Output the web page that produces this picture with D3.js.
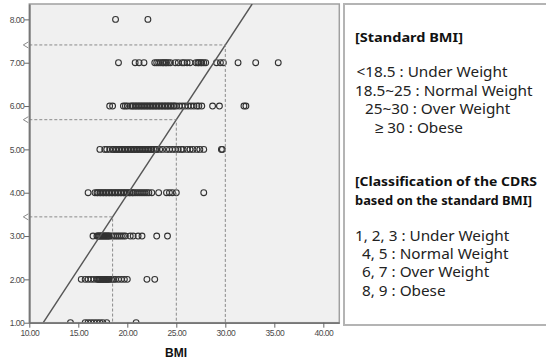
<!DOCTYPE html>
<html>
<head>
<meta charset="utf-8">
<script src="https://cdn.jsdelivr.net/npm/d3@7"></script>
<style>
	body { margin: 0; background: #fff; }
	svg { display: block; }
</style>
</head>
<body>
<script>
// BMI values, one list per CDRS level
const bmiCdrs1 = [14.2, 15.7, 16.0, 16.3, 16.6, 16.9, 17.2, 17.5, 17.9, 20.9];
const bmiCdrs2 = [15.3, 15.7, 16.0, 16.3, 16.6, 16.9, 17.0, 17.1, 17.2, 17.3, 17.4, 17.5, 17.6, 17.7, 17.8, 17.9,
	18.0, 18.1, 18.2, 18.4, 18.6, 18.8, 19.1, 19.4, 19.7, 20.0, 22.0, 22.8];
const bmiCdrs3 = [16.5, 16.9, 17.0, 17.1, 17.2, 17.3, 17.4, 17.5, 17.6, 17.7, 17.8, 17.9, 18.0, 18.1, 18.2, 18.4,
	18.6, 18.8, 19.0, 19.2, 19.4, 19.6, 19.8, 20.3, 20.6, 21.1, 21.5, 23.0, 24.1];
const bmiCdrs4 = [16.0, 16.7, 16.9, 17.0, 17.2, 17.3, 17.5, 17.6, 17.8, 17.9, 18.1, 18.2, 18.4, 18.5, 18.7, 18.8,
	19.0, 19.1, 19.3, 19.4, 19.6, 19.7, 19.9, 20.0, 20.2, 20.3, 20.5, 20.6, 20.8, 21.0, 21.2, 21.4, 21.6, 21.8,
	22.0, 22.2, 22.5, 23.2, 24.0, 24.3, 24.6, 25.0, 27.8];
const bmiCdrs5 = [17.2, 17.7, 17.9, 18.2, 18.5, 18.6, 18.8, 18.9, 19.1, 19.2, 19.4, 19.5, 19.7, 19.8, 20.0, 20.1,
	20.3, 20.4, 20.6, 20.7, 20.9, 21.0, 21.2, 21.3, 21.5, 21.6, 21.8, 21.9, 22.1, 22.2, 22.4, 22.5, 22.7, 22.9,
	23.0, 23.3, 23.6, 24.0, 24.3, 24.6, 24.9, 25.2, 25.5, 25.7, 26.1, 26.4, 26.7, 27.1, 27.4, 27.8, 29.6, 29.7];
const bmiCdrs6 = [18.2, 18.5, 19.6, 19.8, 20.0, 20.3, 20.5, 20.6, 20.8, 20.9, 21.1, 21.2, 21.4, 21.5, 21.7, 21.8,
	22.0, 22.1, 22.3, 22.4, 22.6, 22.7, 22.9, 23.0, 23.2, 23.3, 23.5, 23.6, 23.8, 23.9, 24.1, 24.2, 24.4, 24.5,
	24.7, 24.8, 25.0, 25.3, 25.6, 25.9, 26.2, 26.5, 26.8, 27.1, 27.3, 27.6, 28.7, 29.4, 31.9, 32.1];
const bmiCdrs7 = [19.1, 20.8, 21.2, 21.7, 22.8, 23.0, 23.2, 23.4, 23.6, 23.7, 23.9, 24.0, 24.2, 24.4, 24.9, 25.2,
	25.6, 25.8, 26.1, 26.4, 27.0, 27.2, 27.3, 27.5, 27.6, 27.8, 28.0, 29.1, 29.5, 29.8, 31.3, 33.1, 35.4];
const bmiCdrs8 = [18.8, 22.1];

const cdrsLevels = [1, 2, 3, 4, 5, 6, 7, 8];
const bmiByLevel = [bmiCdrs1, bmiCdrs2, bmiCdrs3, bmiCdrs4, bmiCdrs5, bmiCdrs6, bmiCdrs7, bmiCdrs8];

// fitted line CDRS = a + b * BMI, and the BMI cut-offs
const fitIntercept = -2.94;
const fitSlope = 0.345;
const bmiCutoffs = [18.5, 25, 30];

const xTickValues = [10, 15, 20, 25, 30, 35, 40];
const yTickValues = [1, 2, 3, 4, 5, 6, 7, 8];
const xDomain = [10, 41.63];
const yDomain = [1, 8.355];

const standardBmiTitle = ["[Standard BMI]"];
const standardBmiLines = ["<18.5 : Under Weight", "18.5~25 : Normal Weight", "25~30 : Over Weight", "\u2265 30 : Obese"];
const cdrsTitle = ["[Classification of the CDRS", "based on the standard BMI]"];
const cdrsLines = ["1, 2, 3 : Under Weight", "4, 5 : Normal Weight", "6, 7 : Over Weight", "8, 9 : Obese"];

const width = 546, height = 361;
const plot = {left: 29.3, right: 339.3, top: 4, bottom: 322.7};

const points = cdrsLevels.flatMap((lvl, i) => bmiByLevel[i].map(b => ({bmi: b, cdrs: lvl})));
const fit = b => fitIntercept + fitSlope * b;

const x = d3.scaleLinear().domain(xDomain).range([plot.left, plot.right]);
const y = d3.scaleLinear().domain(yDomain).range([plot.bottom, plot.top]);

const svg = d3.select("body").append("svg")
	.attr("width", width)
	.attr("height", height);

svg.append("defs").append("clipPath")
		.attr("id", "plot-clip")
	.append("rect")
		.attr("x", plot.left)
		.attr("y", plot.top)
		.attr("width", plot.right - plot.left)
		.attr("height", plot.bottom - plot.top);

// plot background + frame
svg.append("rect")
	.attr("x", plot.left)
	.attr("y", plot.top)
	.attr("width", plot.right - plot.left)
	.attr("height", plot.bottom - plot.top)
	.attr("fill", "#f0f0f0")
	.attr("stroke", "#a0a0a0")
	.attr("stroke-width", 1.5);

const inner = svg.append("g").attr("clip-path", "url(#plot-clip)");

// scatter
inner.append("g")
		.attr("fill", "none")
		.attr("stroke", "#333")
		.attr("stroke-width", 1.1)
	.selectAll("circle")
	.data(points)
	.join("circle")
		.attr("cx", d => x(d.bmi))
		.attr("cy", d => y(d.cdrs))
		.attr("r", 2.9);

// fitted line
inner.append("line")
	.attr("x1", x((yDomain[0] - fitIntercept) / fitSlope))
	.attr("y1", y(yDomain[0]))
	.attr("x2", x((yDomain[1] - fitIntercept) / fitSlope))
	.attr("y2", y(yDomain[1]))
	.attr("stroke", "#555")
	.attr("stroke-width", 1.4);

// dashed guides from the cut-offs
const guides = svg.append("g")
		.attr("fill", "none")
		.attr("stroke", "#8a8a8a")
		.attr("stroke-width", 1)
	.selectAll("g")
	.data(bmiCutoffs)
	.join("g");

guides.append("path")
	.attr("stroke-dasharray", "3,2")
	.attr("d", d => `M${plot.left},${y(fit(d))}H${x(d)}V${plot.bottom}`);

guides.append("path")
	.attr("d", d => `M${plot.left - 1},${y(fit(d)) - 3}L${plot.left - 6},${y(fit(d))}L${plot.left - 1},${y(fit(d)) + 3}`);

// axes
const xAxis = g => g
	.attr("transform", `translate(0,${plot.bottom})`)
	.call(d3.axisBottom(x).tickValues(xTickValues).tickFormat(d3.format(".2f")).tickSize(5).tickSizeOuter(0))
	.call(g => g.select(".domain").attr("stroke", "#777").attr("stroke-width", 1.8))
	.call(g => g.selectAll(".tick line").attr("stroke", "#666"))
	.call(g => g.selectAll(".tick text").attr("dy", "0.95em").attr("y", 5));

const yAxis = g => g
	.attr("transform", `translate(${plot.left},0)`)
	.call(d3.axisLeft(y).tickValues(yTickValues).tickFormat(d3.format(".2f")).tickSize(5).tickSizeOuter(0))
	.call(g => g.select(".domain").attr("stroke", "#777").attr("stroke-width", 1.8))
	.call(g => g.selectAll(".tick line").attr("stroke", "#666"))
	.call(g => g.selectAll(".tick text").attr("x", -5));

svg.append("g").call(xAxis);
svg.append("g").call(yAxis);

svg.selectAll(".tick text")
	.attr("font-family", "'Liberation Sans', Arial, sans-serif")
	.attr("font-size", 8.5)
	.attr("letter-spacing", "-0.5px")
	.attr("fill", "#4a4a4a");

svg.append("text")
	.attr("x", 176)
	.attr("y", 357)
	.attr("text-anchor", "middle")
	.attr("font-family", "'Liberation Sans', Arial, sans-serif")
	.attr("font-weight", "bold")
	.attr("font-size", 12)
	.attr("fill", "#111")
	.text("BMI");

// legend box
svg.append("rect")
	.attr("x", 344)
	.attr("y", 4)
	.attr("width", 210)
	.attr("height", 321)
	.attr("fill", "#fff")
	.attr("stroke", "#b4b4b4")
	.attr("stroke-width", 2);

const legend = svg.append("g")
	.attr("font-family", "'Noto Sans', sans-serif")
	.attr("fill", "#222");

// fitWidths stretches bold lines to the width they take in the original
const legendBlock = (lines, xs, y0, dy, bold, fitWidths) => legend.append("g")
		.attr("font-weight", bold ? "bold" : null)
		.attr("font-size", bold ? 13.2 : 15.3)
		.attr("fill", bold ? "#111" : null)
	.selectAll("text")
	.data(lines)
	.join("text")
		.attr("x", (d, i) => xs[i])
		.attr("y", (d, i) => y0 + i * dy)
		.attr("textLength", (d, i) => fitWidths ? fitWidths[i] : null)
		.attr("lengthAdjust", fitWidths ? "spacingAndGlyphs" : null)
		.text(d => d);

legendBlock(standardBmiTitle, [355], 42, 18.5, true, [108]);
legendBlock(standardBmiLines, [356.5, 355, 365, 375], 77, 18.6, false);
legendBlock(cdrsTitle, [355, 355], 186, 19, true, [182, 177]);
legendBlock(cdrsLines, [355, 362, 362, 362], 241, 18.2, false);
</script>
</body>
</html>
